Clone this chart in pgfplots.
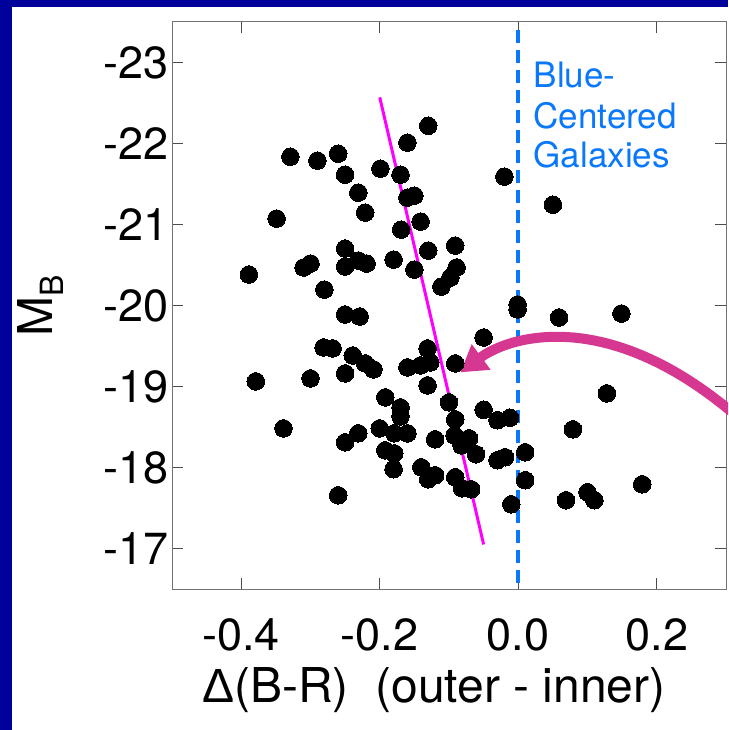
\documentclass[border=0pt]{standalone}
\usepackage{pgfplots}
\pgfplotsset{compat=1.18}
\usepackage{fontspec}
\setmainfont{TeX Gyre Heros}
\newfontfamily\greekfont{Liberation Sans}
\usetikzlibrary{arrows.meta}
\definecolor{navybg}{RGB}{0,0,155}
\definecolor{bluetxt}{RGB}{10,120,250}
\definecolor{arrowpink}{RGB}{214,56,145}
\definecolor{fitmag}{RGB}{255,0,255}
\begin{document}
\begin{tikzpicture}
\useasboundingbox (0,0) rectangle (728pt,730pt);
\fill[navybg] (0,0) rectangle (728pt,730pt);
\fill[white] (12pt,0) rectangle (728pt,723pt);
\begin{scope}
\clip (0,0) rectangle (728pt,730pt);
\begin{axis}[
  at={(172pt,141pt)}, anchor=south west,
  scale only axis, width=554pt, height=567pt,
  xmin=-0.5, xmax=0.3, ymin=-23.5, ymax=-16.5,
  y dir=reverse,
  clip=false,
  xtick={-0.4,-0.2,0,0.2},
  xticklabels={{-0.4},{-0.2},{0.0},{0.2}},
  ytick={-23,-22,-21,-20,-19,-18,-17},
  yticklabels={{-23},{-22},{-21},{-20},{-19},{-18},{-17}},
  minor tick num=0,
  tick align=inside,
  xtick pos=both, ytick pos=both,
  major tick length=11pt,
  tick style={black!70, line width=1pt},
  axis line style={black!55, line width=1pt},
  ticklabel style={font=\fontsize{45}{54}\selectfont},
  xticklabel style={anchor=base, yshift=-61pt},
  xlabel={{\greekfont Δ}(B-R)\ \ (outer - inner)},
  ylabel={M\raisebox{-0.23em}{\fontsize{32}{32}\selectfont B}},
  label style={font=\fontsize{48}{56}\selectfont},
  xlabel style={at={(axis description cs:0.4724,-0.1993)}, anchor=base},
  ylabel style={at={(axis description cs:-0.2166,0.5)}, anchor=base, rotate=0},
]
% dashed reference line
\addplot[bluetxt, line width=3.8pt, dash pattern=on 13pt off 7pt] coordinates {(0,-23.4) (0,-16.5)};
% fitted line
\addplot[fitmag, line width=3pt] coordinates {(-0.2,-22.57) (-0.05,-17.05)};
% data points
\addplot[only marks, mark=*, mark size=8.8pt, black, mark options={line width=0pt}] coordinates {
(-0.329,-21.837) (-0.290,-21.788) (-0.260,-21.874) (-0.250,-21.615) (-0.231,-21.393)
(-0.221,-21.147) (-0.349,-21.073) (-0.199,-21.689) (-0.250,-20.703) (-0.130,-22.219)
(-0.160,-22.010) (-0.170,-21.615) (-0.160,-21.332) (-0.150,-21.356) (-0.141,-21.036)
(-0.169,-20.937) (-0.091,-20.740) (-0.130,-20.678) (-0.180,-20.567) (-0.020,-21.591)
(-0.150,-20.444) (-0.089,-20.469) (-0.098,-20.345) (-0.111,-20.234) (-0.001,-20.012)
(-0.001,-19.951) (0.059,-19.852) (0.149,-19.901) (-0.050,-19.605) (-0.131,-19.470)
(0.050,-21.245) (-0.389,-20.382) (-0.310,-20.469) (-0.300,-20.518) (-0.250,-20.481)
(-0.231,-20.555) (-0.219,-20.518) (-0.280,-20.197) (-0.250,-19.889) (-0.229,-19.864)
(-0.281,-19.482) (-0.268,-19.470) (-0.239,-19.383) (-0.221,-19.285) (-0.209,-19.211)
(-0.250,-19.162) (-0.379,-19.063) (-0.300,-19.100) (-0.192,-18.866) (-0.091,-19.285)
(-0.160,-19.236) (-0.141,-19.260) (-0.127,-19.297) (-0.131,-19.014) (-0.050,-18.713)
(-0.012,-18.614) (-0.170,-18.742) (-0.170,-18.632) (-0.100,-18.804) (-0.091,-18.594)
(-0.030,-18.583) (-0.339,-18.483) (-0.231,-18.422) (-0.250,-18.311) (-0.200,-18.483)
(-0.179,-18.422) (-0.160,-18.422) (-0.192,-18.212) (-0.179,-18.174) (-0.180,-17.979)
(-0.140,-18.003) (-0.130,-17.855) (-0.120,-17.904) (-0.120,-18.348) (-0.092,-18.397)
(-0.071,-18.360) (-0.082,-18.274) (-0.061,-18.164) (-0.030,-18.090) (-0.019,-18.127)
(0.010,-18.188) (0.010,-17.843) (-0.091,-17.880) (-0.081,-17.744) (-0.068,-17.731)
(-0.010,-17.546) (0.069,-17.596) (0.100,-17.694) (0.110,-17.596) (0.079,-18.471)
(0.128,-18.915) (0.179,-17.793) (-0.260,-17.657)
};
% annotation text
\node[bluetxt, anchor=base west, inner sep=0pt, font=\fontsize{35}{40}\selectfont] at (axis cs:0.022,-22.692) {Blue-};
\node[bluetxt, anchor=base west, inner sep=0pt, font=\fontsize{35}{40}\selectfont] at (axis cs:0.022,-22.186) {Centered};
\node[bluetxt, anchor=base west, inner sep=0pt, font=\fontsize{35}{40}\selectfont] at (axis cs:0.022,-21.705) {Galaxies};
% curved arrow
\draw[arrowpink, line width=10pt, -{Triangle[length=26pt,width=30pt]}]
  (axis cs:0.320,-18.60) .. controls (axis cs:0.1327,-20.00) and (axis cs:-0.0115,-19.63) .. (axis cs:-0.0837,-19.174);
\end{axis}
\end{scope}
\end{tikzpicture}
\end{document}
